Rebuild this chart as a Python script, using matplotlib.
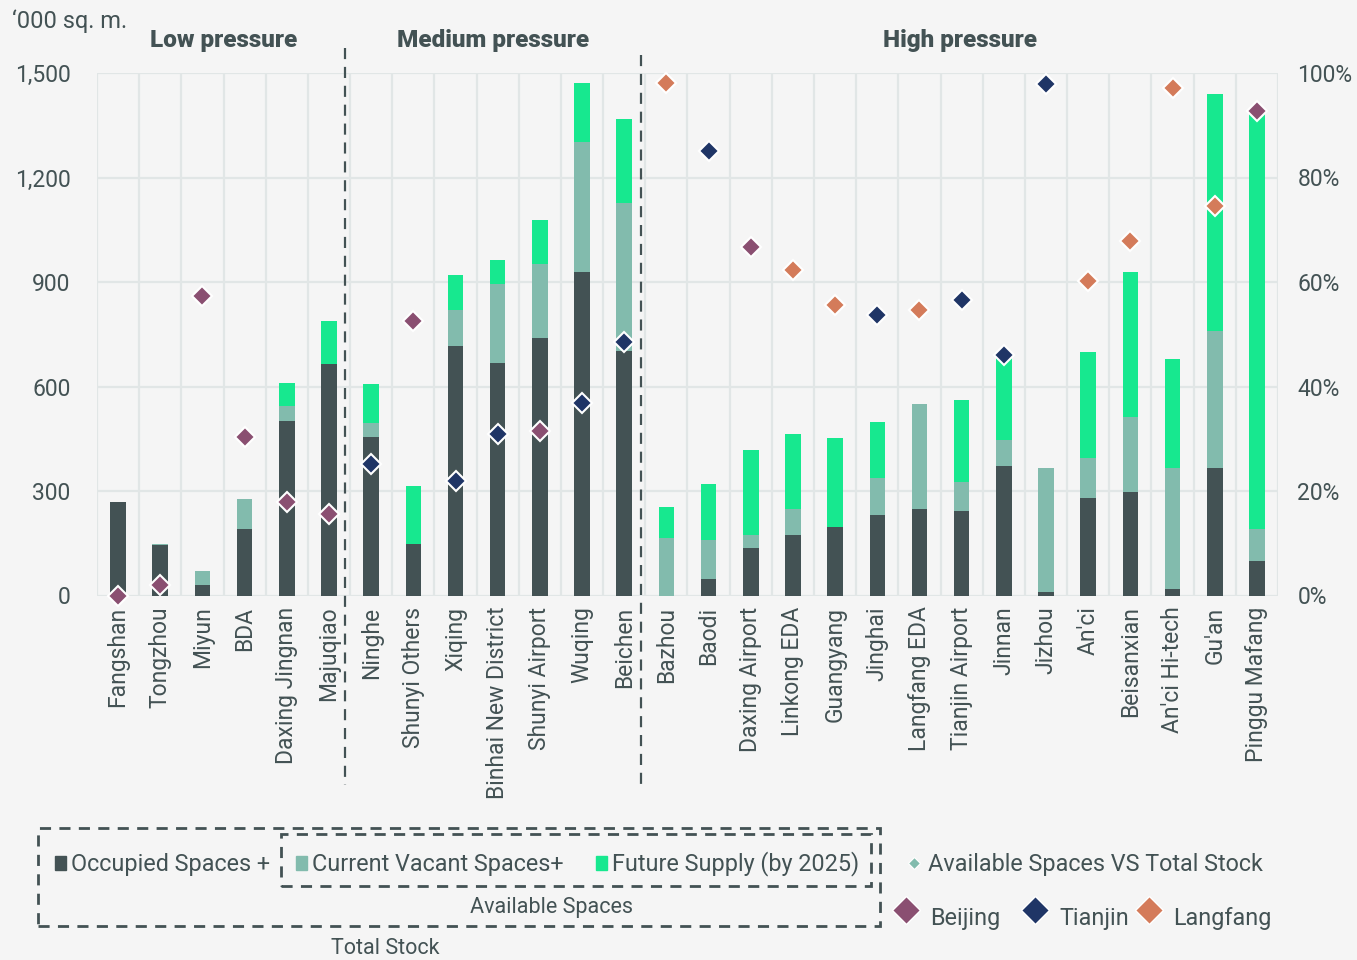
import matplotlib
matplotlib.use("Agg")
import matplotlib.pyplot as plt
from matplotlib.patches import Rectangle
from matplotlib.lines import Line2D
import numpy as np

# data ('000 sq. m.)
categories = ["Fangshan", "Tongzhou", "Miyun", "BDA", "Daxing Jingnan", "Majuqiao",
              "Ninghe", "Shunyi Others", "Xiqing", "Binhai New District", "Shunyi Airport",
              "Wuqing", "Beichen", "Bazhou", "Baodi", "Daxing Airport", "Linkong EDA",
              "Guangyang", "Jinghai", "Langfang EDA", "Tianjin Airport", "Jinnan", "Jizhou",
              "An'ci", "Beisanxian", "An'ci Hi-tech", "Gu'an", "Pinggu Mafang"]
occupied = [268, 144, 29, 190, 500, 666, 454, 148, 717, 667, 738, 930, 702, 0,
            46, 137, 173, 198, 230, 249, 243, 372, 9, 279, 297, 19, 365, 98]
vacant = [0, 4, 40, 86, 45, 0, 42, 0, 103, 228, 213, 373, 424, 166,
          112, 38, 76, 0, 106, 302, 82, 75, 356, 117, 215, 346, 393, 94]
future = [0, 0, 0, 0, 65, 121, 112, 165, 100, 68, 126, 168, 242, 87,
          161, 242, 214, 253, 163, 0, 235, 237, 0, 302, 417, 314, 681, 1194]
avail_ratio = [0, 2.1, 57.3, 30.4, 17.9, 15.6, 25.1, 52.6, 22.0, 31.0, 31.5, 36.8, 48.5, 98.1,
               85.0, 66.7, 62.3, 55.6, 53.7, 54.6, 56.6, 46.1, 97.8, 60.1, 67.9, 97.1, 74.6, 92.8]
region = ["Beijing", "Beijing", "Beijing", "Beijing", "Beijing", "Beijing", "Tianjin",
          "Beijing", "Tianjin", "Tianjin", "Beijing", "Tianjin", "Tianjin", "Langfang",
          "Tianjin", "Beijing", "Langfang", "Langfang", "Tianjin", "Langfang", "Tianjin",
          "Tianjin", "Tianjin", "Langfang", "Langfang", "Langfang", "Langfang", "Beijing"]
groups = ["Low pressure", "Medium pressure", "High pressure"]
group_centers = [2.5, 8.9, 19.95]

# colours
c_occ = "#435254"
c_vac = "#82BBAD"
c_fut = "#17E88F"
region_colors = {"Beijing": "#8A4F71", "Tianjin": "#1F3566", "Langfang": "#D47B5A"}
bg = "#F5F5F5"
grid_c = "#E1E6E6"
txt = "#435254"

W, H = 1357, 960
plt.rcParams["font.family"] = ["Roboto", "DejaVu Sans"]


def fx(px):
    return px / W


def fy(py):
    return 1 - py / H


fig = plt.figure(figsize=(W / 100, H / 100), dpi=100, facecolor=bg)
ax = fig.add_axes([fx(97), fy(595.5), fx(1278 - 97), (595.5 - 73) / H])
ax.set_facecolor(bg)

x = np.arange(len(categories))
occ = np.array(occupied)
vac = np.array(vacant)
fut = np.array(future)
bw = 0.37
ax.bar(x, occ, width=bw, color=c_occ, zorder=3)
ax.bar(x, vac, width=bw, bottom=occ, color=c_vac, zorder=3)
ax.bar(x, fut, width=bw, bottom=occ + vac, color=c_fut, zorder=3)

ax.set_xlim(-0.5, len(categories) - 0.5)
ax.set_ylim(0, 1500)
ax.set_yticks(range(0, 1501, 300))
ax.set_yticklabels([f"{v:,}" for v in range(0, 1501, 300)])
ax.set_xticks(x)
ax.set_xticklabels(categories, rotation=90, va="top", ha="center")
ax.set_xticks(np.arange(-0.5, len(categories), 1), minor=True)
ax.tick_params(axis="both", which="both", length=0, labelsize=16.5, colors=txt)
ax.tick_params(axis="y", pad=19)
ax.tick_params(axis="x", pad=8)
ax.grid(axis="y", which="major", color=grid_c, linewidth=1.6, zorder=0)
ax.grid(axis="x", which="minor", color=grid_c, linewidth=1.6, zorder=0)
for s in ax.spines.values():
    s.set_visible(False)

# right axis: available spaces vs total stock
ax2 = ax.twinx()
ax2.set_ylim(0, 100)
ax2.set_yticks(range(0, 101, 20))
ax2.set_yticklabels([f"{v}%" for v in range(0, 101, 20)])
ax2.tick_params(axis="y", length=0, labelsize=16.5, colors=txt, pad=14)
for s in ax2.spines.values():
    s.set_visible(False)
for r, col in region_colors.items():
    idx = [i for i, rg in enumerate(region) if rg == r]
    ax2.plot(x[idx], np.array(avail_ratio)[idx], ls="", marker="D", markersize=10,
             markerfacecolor=col, markeredgecolor="white", markeredgewidth=1.5,
             zorder=5, clip_on=False)

# dashed separators between pressure groups
trans = ax.get_xaxis_transform()
for xs, y0, y1 in [(5.38, 1.048, -0.363), (12.4, 1.034, -0.372)]:
    ax.plot([xs, xs], [y0, y1], transform=trans, color=c_occ, lw=1.6,
            ls=(0, (5, 3.5)), clip_on=False, zorder=6)

# group headers
for name, xc in zip(groups, group_centers):
    ax.text(xc, 1.063, name, transform=trans, ha="center", va="center",
            fontsize=17.5, fontweight="heavy", color=txt)

fig.text(fx(12), fy(21), "\u2018000 sq. m.", fontsize=17, color=txt, va="center", ha="left")

# legend drawn by hand
fig.add_artist(Rectangle((fx(38), fy(926)), fx(880 - 38), (926 - 828) / H, fill=False,
                         edgecolor=c_occ, lw=2, ls=(0, (4, 3)), transform=fig.transFigure))
fig.add_artist(Rectangle((fx(281), fy(886)), fx(871 - 281), (886 - 834) / H, fill=False,
                         edgecolor=c_occ, lw=2, ls=(0, (4, 3)), transform=fig.transFigure))

leg_fs = 16.8
row1 = [(60, c_occ, "Occupied Spaces +"), (301, c_vac, "Current Vacant Spaces+"),
        (601, c_fut, "Future Supply (by 2025)")]
for px, col, label in row1:
    fig.add_artist(Rectangle((fx(px - 5), fy(870)), fx(11), 14 / H, color=col,
                             transform=fig.transFigure))
    fig.text(fx(px + 11), fy(864), label, fontsize=leg_fs, color=txt, va="center", ha="left")

fig.add_artist(Line2D([fx(914)], [fy(863)], marker="D", markersize=6, color=c_vac,
                      markeredgecolor="white", markeredgewidth=0.8, transform=fig.transFigure))
fig.text(fx(928), fy(864), "Available Spaces VS Total Stock", fontsize=leg_fs, color=txt,
         va="center", ha="left")

for px, r in [(906, "Beijing"), (1035, "Tianjin"), (1149, "Langfang")]:
    fig.add_artist(Line2D([fx(px)], [fy(910)], marker="D", markersize=14,
                          color=region_colors[r], markeredgecolor="white",
                          markeredgewidth=1, transform=fig.transFigure))
    fig.text(fx(px + 24), fy(919), r, fontsize=leg_fs, color=txt, va="center", ha="left")

fig.text(fx(552), fy(908), "Available Spaces", fontsize=15.5, color=txt, va="center", ha="center")
fig.text(fx(385), fy(948), "Total Stock", fontsize=15.5, color=txt, va="center", ha="center")

fig.savefig("out.png", dpi=100, facecolor=bg)
